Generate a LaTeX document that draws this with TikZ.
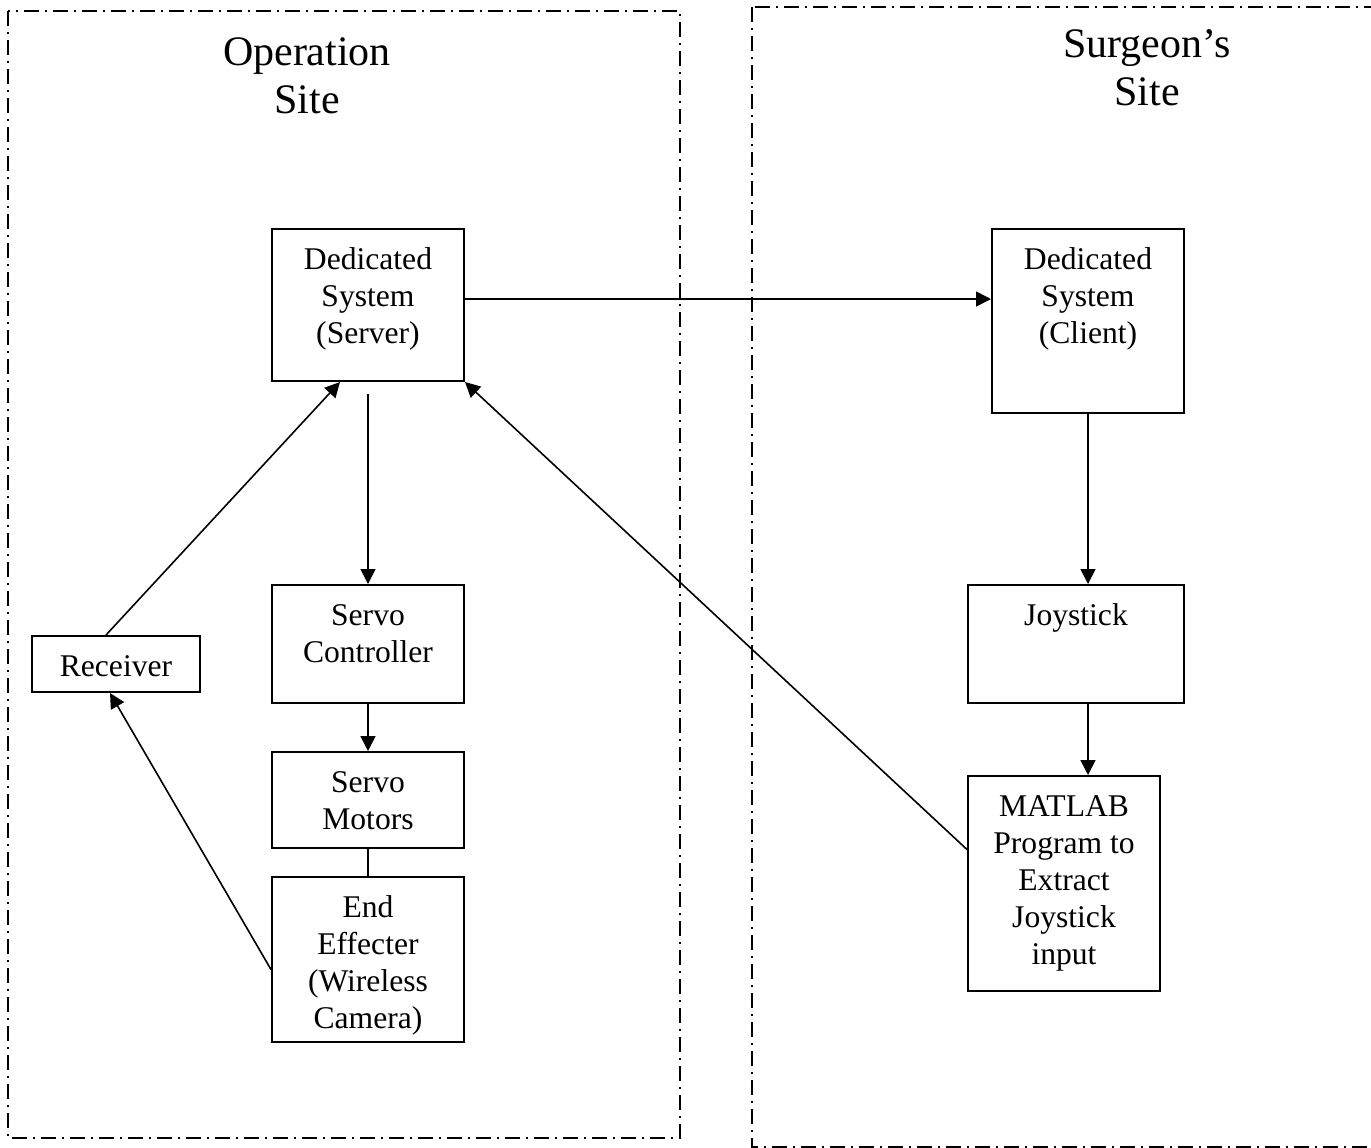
\documentclass[tikz,border=0pt]{standalone}
\usepackage{fontspec}
\setmainfont{Liberation Serif}
\usepackage{tikz}
\usetikzlibrary{arrows.meta,calc,positioning}
\tikzset{
	site diagram/.style={
		x=.5pt, y=-.5pt,
		line width=.8pt,
		>={Triangle[length=7.5pt,width=7.5pt]},
		every node/.style={font=\fontsize{15.8}{18.5}\selectfont},
		ar/.style={->},
		},
	site/.style={line width=1pt, dash pattern=on 7.5pt off 3pt on 1pt off 3pt},
	site name/.style={align=center, font=\fontsize{21}{24}\selectfont},
	blk/.style 2 args={draw, line width=1pt, anchor=north, align=center, inner sep=0pt,
		minimum width=96pt, text height=#1, text depth=#2},
	blk wide/.style 2 args={blk={#1}{#2}, minimum width=108pt},
	blk small/.style 2 args={blk={#1}{#2}, minimum width=84pt}
}

\begin{document}
\begin{tikzpicture}[site diagram]
   \useasboundingbox (0,0) rectangle (1371,1147);
   % the two sites
   \draw[site] (8,11) rectangle (680,1138);
   \draw[site] (752,7) rectangle (1390,1147);
   \node[site name] (OpName) at (307,76) {Operation\\Site};
   \node[site name] (SgName) at (1147,68) {Surgeon’s\\Site};
   % operation site
   \node[blk={57pt}{19pt}] (Srv) at (368,228) {Dedicated\\System\\(Server)};
   \node[blk={38.5pt}{20.5pt}] (SrvCtl) at (368,584) {Servo\\Controller};
   \node[blk={38.5pt}{9.5pt}] (SrvMot) at (368,751) {Servo\\Motors};
   \node[blk={75.5pt}{7pt}] (EndEff) at (368,876) {End\\Effecter\\(Wireless\\Camera)};
   \node[blk small={20pt}{8pt}] (Rcv) at (116,635) {Receiver};
   % surgeon's site
   \node[blk={57pt}{35pt}] (Cli) at (1088,228) {Dedicated\\System\\(Client)};
   \node[blk wide={20pt}{39pt}] (Joy) at (1076,584) {Joystick};
   \node[blk={94pt}{13.5pt}] (Mat) at (1064,775) {MATLAB\\Program to\\Extract\\Joystick\\input};
   % links
   \draw[ar] ([yshift=3pt]Srv.east) -- ([yshift=3pt]Srv.east -| Cli.west);
   \draw[ar] ([yshift=-6pt]Srv.south) -- (SrvCtl.north);
   \draw[ar] (SrvCtl) -- (SrvMot);
   \draw (SrvMot) -- (EndEff);
   \draw[ar] ([yshift=-5pt]EndEff.west) -- ([xshift=-3pt]Rcv.south);
   \draw[ar] ([xshift=-5pt]Rcv.north) -- ([xshift=-14pt]Srv.south);
   \draw[ar] ([yshift=17pt]Mat.west) -- (Srv.south east);
   \draw[ar] (Cli.south) -- (Cli.south |- Joy.north);
   \draw[ar] (Cli.south |- Joy.south) -- (Cli.south |- Mat.north);
\end{tikzpicture}
\end{document}
